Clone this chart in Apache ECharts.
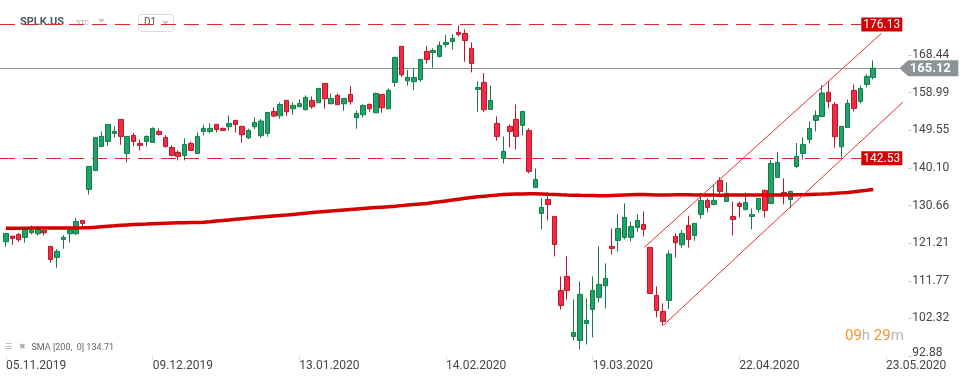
<!DOCTYPE html>
<html><head><meta charset="utf-8">
<script src="https://cdn.jsdelivr.net/npm/echarts@6/dist/echarts.min.js"></script>
<style>html,body{margin:0;padding:0;background:#fff}#c{width:971px;height:382px}</style>
</head><body><div id="c"></div>
<script>
const categories = ["05.11.2019","06.11.2019","07.11.2019","08.11.2019","11.11.2019","12.11.2019","13.11.2019","14.11.2019","15.11.2019","18.11.2019","19.11.2019","20.11.2019","21.11.2019","22.11.2019","25.11.2019","26.11.2019","27.11.2019","29.11.2019","02.12.2019","03.12.2019","04.12.2019","05.12.2019","06.12.2019","09.12.2019","10.12.2019","11.12.2019","12.12.2019","13.12.2019","16.12.2019","17.12.2019","18.12.2019","19.12.2019","20.12.2019","23.12.2019","24.12.2019","26.12.2019","27.12.2019","30.12.2019","31.12.2019","02.01.2020","03.01.2020","06.01.2020","07.01.2020","08.01.2020","09.01.2020","10.01.2020","13.01.2020","14.01.2020","15.01.2020","16.01.2020","17.01.2020","21.01.2020","22.01.2020","23.01.2020","24.01.2020","27.01.2020","28.01.2020","29.01.2020","30.01.2020","31.01.2020","03.02.2020","04.02.2020","05.02.2020","06.02.2020","07.02.2020","10.02.2020","11.02.2020","12.02.2020","13.02.2020","14.02.2020","18.02.2020","19.02.2020","20.02.2020","21.02.2020","24.02.2020","25.02.2020","26.02.2020","27.02.2020","28.02.2020","02.03.2020","03.03.2020","04.03.2020","05.03.2020","06.03.2020","09.03.2020","10.03.2020","11.03.2020","12.03.2020","13.03.2020","16.03.2020","17.03.2020","18.03.2020","19.03.2020","20.03.2020","23.03.2020","24.03.2020","25.03.2020","26.03.2020","27.03.2020","30.03.2020","31.03.2020","01.04.2020","02.04.2020","03.04.2020","06.04.2020","07.04.2020","08.04.2020","09.04.2020","13.04.2020","14.04.2020","15.04.2020","16.04.2020","17.04.2020","20.04.2020","21.04.2020","22.04.2020","23.04.2020","24.04.2020","27.04.2020","28.04.2020","29.04.2020","30.04.2020","01.05.2020","04.05.2020","05.05.2020","06.05.2020","07.05.2020","08.05.2020","11.05.2020","12.05.2020","13.05.2020","14.05.2020","15.05.2020","18.05.2020","19.05.2020","20.05.2020","21.05.2020","22.05.2020","23.05.2020","24.05.2020","25.05.2020","26.05.2020"];

const opens  = [121.57,122.99,123.41,122.66,123.83,123.58,124.41,120.39,117.63,122.15,123.58,123.58,126.92,134.71,139.48,145.5,146.76,148.77,152.29,143.75,148.27,146.26,146.76,146.51,149.27,147.77,145.25,144.0,143.25,146.26,143.75,149.27,149.27,151.03,150.03,150.45,152.04,150.53,147.68,150.45,148.19,148.77,154.29,153.21,157.06,154.97,155.47,154.71,157.06,156.47,161.33,156.22,158.31,156.22,158.56,152.71,153.46,156.05,153.96,158.56,154.97,161.58,170.62,161.99,161.75,162.25,169.36,169.11,168.11,171.12,171.87,174.13,173.88,170.12,159.82,161.58,154.8,151.28,142.49,150.53,152.29,150.78,149.52,135.21,128.68,132.2,127.93,109.35,112.86,97.8,96.79,101.06,104.58,107.59,110.52,120.4,121.9,122.66,122.66,125.17,125.92,120.15,108.1,104.08,106.84,122.91,120.82,125.67,123.16,128.44,131.95,130.95,136.97,131.7,127.93,131.2,129.69,127.93,129.69,134.46,131.2,137.73,133.96,132.2,140.49,143.75,147.27,152.04,153.04,159.07,156.06,145.43,150.28,159.57,156.81,161.08,162.84];
const closes = [123.66,122.4,122.07,124.75,124.41,124.67,123.83,117.13,119.14,122.66,124.5,126.67,126.17,140.48,147.77,148.02,151.03,149.27,148.02,148.02,146.76,145.76,148.02,150.03,148.52,145.5,143.25,143.0,146.01,144.5,148.02,150.03,150.03,149.77,149.52,151.28,151.03,148.44,149.52,151.53,151.87,154.04,153.12,156.03,154.21,155.8,156.3,157.81,155.47,160.07,157.48,157.56,155.97,157.56,156.72,153.79,155.8,154.97,158.81,155.22,159.57,167.86,163.5,162.83,162.83,167.35,167.35,169.61,170.87,171.62,172.63,173.63,172.12,166.35,160.32,154.71,157.06,148.02,144.25,149.27,148.02,154.29,139.23,137.22,130.19,130.94,120.9,105.58,109.35,98.8,108.35,101.82,109.35,110.86,112.36,119.9,124.92,127.68,125.42,126.93,124.67,108.6,104.33,101.57,118.48,121.32,123.67,122.16,126.18,131.95,130.19,131.95,134.21,133.71,127.18,130.45,131.45,128.44,132.45,129.44,141.24,141.49,133.21,134.21,143.0,146.01,150.03,153.29,158.9,156.81,147.94,150.53,156.31,155.05,160.07,163.09,165.12];
const lows   = [120.31,120.81,121.57,121.32,123.41,123.16,123.16,116.29,115.04,119.81,121.32,123.33,125.25,133.37,139.4,145.4,145.67,147.77,145.92,141.49,145.5,144.5,145.5,146.4,148.27,145.17,143.0,142.0,142.0,144.4,143.75,148.27,148.77,149.02,149.44,149.44,149.02,146.43,147.35,149.86,147.68,147.93,152.87,152.46,153.12,153.46,155.47,154.6,154.97,156.47,154.97,156.22,155.97,154.46,155.97,149.94,152.71,154.21,153.96,153.96,154.97,160.49,163.0,160.74,159.74,161.75,166.35,165.26,167.86,170.37,169.86,173.13,166.77,164.09,154.21,154.21,154.8,146.93,141.24,145.26,144.75,148.27,138.73,135.1,124.67,126.93,117.89,104.58,107.09,96.79,94.53,95.79,97.55,106.34,104.83,118.39,119.14,122.16,121.65,124.08,122.91,108.5,102.57,100.5,104.75,117.64,120.07,120.07,121.82,127.35,128.94,130.7,133.21,131.62,123.16,127.68,129.44,124.67,128.94,127.68,130.95,137.65,130.95,129.94,140.07,142.25,146.26,149.28,152.79,155.05,145.18,142.67,150.2,154.3,156.31,160.33,162.33];
const highs  = [123.8,123.0,123.74,124.9,125.67,125.42,124.58,120.56,119.73,123.24,124.83,127.51,126.92,140.5,147.8,149.27,151.1,150.53,152.3,148.1,148.85,147.26,148.27,150.28,150.03,148.35,145.76,144.5,147.52,146.76,149.02,150.95,151.28,151.03,150.28,153.29,152.1,150.7,149.94,152.79,152.37,154.1,155.3,156.56,157.1,156.56,157.31,158.31,158.06,160.07,161.33,158.81,158.81,157.7,160.66,154.46,156.05,156.3,159.0,158.65,160.07,168.0,170.62,164.67,165.09,167.35,170.62,170.12,171.87,173.46,173.71,175.89,174.89,171.62,161.83,163.92,160.82,153.04,148.02,151.03,156.05,154.4,150.03,139.98,132.45,133.96,127.93,112.86,117.89,107.09,111.61,107.34,112.86,120.4,116.13,124.83,128.52,131.19,126.67,128.43,129.19,120.2,110.36,106.09,119.4,123.67,124.5,128.1,126.26,133.71,132.45,135.97,137.73,136.47,131.7,131.7,133.96,129.94,132.45,134.71,142.0,144.09,137.48,134.4,146.35,147.77,151.79,154.55,160.91,161.92,156.56,150.53,157.31,161.08,160.83,163.59,167.11];

const sma200 = [124.95,124.96,124.97,124.98,124.99,125.0,125.0,125.01,125.02,125.03,125.04,125.05,125.06,
125.08,125.2,125.33,125.45,125.57,125.7,125.8,125.88,125.95,126.02,126.1,126.16,126.22,126.28,126.33,126.36,126.4,126.43,126.47,
126.6,126.75,126.9,127.05,127.2,127.35,127.5,127.63,127.77,127.9,128.02,128.14,128.26,128.43,128.6,128.75,128.9,129.05,129.18,
129.3,129.42,129.54,129.66,129.78,129.9,130.02,130.14,130.26,130.38,130.5,130.64,130.78,130.92,131.06,131.2,131.4,131.6,131.82,132.04,
132.26,132.48,132.7,132.85,133.0,133.15,133.3,133.46,133.5,133.54,133.57,133.6,133.62,133.58,133.5,133.43,133.36,133.3,133.27,133.23,
133.2,133.17,133.13,133.1,133.17,133.24,133.31,133.38,133.45,133.41,133.37,133.33,133.3,133.32,133.35,133.36,133.35,133.33,133.32,133.3,
133.28,133.27,133.28,133.3,133.32,133.33,133.33,133.32,133.3,133.29,133.28,133.29,133.3,133.35,133.4,133.45,133.5,133.54,133.62,133.72,133.84,133.96,134.1,134.3,134.5,134.71];

const yTicks = [92.88, 102.32, 111.77, 121.21, 130.66, 140.10, 149.55, 158.99, 168.44];
const dateLabelStep = 23;
const upperChannelX = [100.1, 137.3];
const upperChannelY = [120.15, 173.89];
const lowerChannelX = [103.07, 140.66];
const lowerChannelY = [100.57, 156.64];
const levelValues = [176.13, 142.53, 165.12];
const levelKinds = [0, 0, 1]; // 0 = red dashed level, 1 = last price
const smaLabel = 'SMA [200,  0] 134.71';

const candleData = opens.map((o, i) => [o, closes[i], lows[i], highs[i]]);
const levelData = levelValues.map((v, i) => [0, v, levelKinds[i]]);
const upperData = upperChannelX.map((x, i) => [x, upperChannelY[i]]);
const lowerData = lowerChannelX.map((x, i) => [x, lowerChannelY[i]]);

const chart = echarts.init(document.getElementById('c'), null, {renderer: 'canvas'});
const showDate = (idx) => idx % dateLabelStep === 0;

function renderLevelLine(params, api) {
  const cs = params.coordSys;
  const v = api.value(1), k = api.value(2);
  const y = Math.round(api.coord([0, v])[1]) + 0.5;
  const right = cs.x + cs.width;
  if (k === 1) {
    return {type: 'line', shape: {x1: 0, y1: y, x2: right - 9, y2: y}, style: {stroke: '#8e9598', lineWidth: 1}};
  }
  return {type: 'line', shape: {x1: 0, y1: y, x2: right - 47, y2: y}, style: {stroke: '#e02828', lineWidth: 1.2, lineDash: [15, 8]}};
}
function renderLevelTag(params, api) {
  const cs = params.coordSys;
  const v = api.value(1), k = api.value(2);
  const y = api.coord([0, v])[1];
  const right = cs.x + cs.width;
  if (k === 1) {
    return {type: 'group', children: [
      {type: 'polygon', shape: {points: [[right - 9, y], [right, y - 8], [right + 50, y - 8], [right + 50, y + 8], [right, y + 8]]}, style: {fill: '#8c9396'}},
      {type: 'text', style: {text: v.toFixed(2), x: right + 22, y: y, align: 'center', verticalAlign: 'middle', fill: '#fff', font: 'bold 13px Roboto'}}
    ]};
  }
  return {type: 'group', children: [
    {type: 'rect', shape: {x: right - 47, y: y - 7, width: 41, height: 14}, style: {fill: '#d20000'}},
    {type: 'text', style: {text: v.toFixed(2), x: right - 26.5, y: y + 0.5, align: 'center', verticalAlign: 'middle', fill: '#fff', font: '12px Roboto'}}
  ]};
}

chart.setOption({
  animation: false,
  backgroundColor: '#fff',
  grid: {left: 2.8, right: 62.7, top: 0, bottom: 26},
  xAxis: [{
    type: 'category', data: categories, boundaryGap: true,
    axisLine: {show: false, onZero: false},
    axisTick: {show: true, interval: (i) => showDate(i), alignWithLabel: true, length: 4, lineStyle: {color: '#dedede'}},
    axisLabel: {interval: (i) => showDate(i), align: 'left', margin: 4, color: '#454545', fontSize: 12, fontFamily: 'Roboto'},
    splitLine: {show: false}
  }, {
    type: 'value', min: -0.5, max: categories.length - 0.5, show: false,
    axisLine: {onZero: false}
  }],
  yAxis: {
    type: 'value', position: 'right', min: 92.88, max: 182.27, scale: true,
    axisLine: {show: false, onZero: false},
    splitLine: {show: false},
    axisTick: {show: true, length: 3, lineStyle: {color: '#c8c8c8'}, customValues: yTicks},
    axisLabel: {
      customValues: yTicks, margin: 4, color: '#454545', fontSize: 12, fontFamily: 'Roboto',
      formatter: (v) => v === yTicks[0] ? '{low|' + v.toFixed(2) + '}' : v.toFixed(2),
      rich: {low: {color: '#454545', fontSize: 12, fontFamily: 'Roboto', padding: [0, 0, 7, 0]}}
    }
  },
  graphic: [
    {type: 'text', left: 20, top: 16.5, style: {text: 'SPLK.US', font: 'bold 11px Roboto', fill: '#505a5f'}},
    {type: 'text', left: 76, top: 19.5, style: {text: 'STC', font: '7px Roboto', fill: '#a0a6aa'}},
    {type: 'polygon', shape: {points: [[98, 19], [105, 19], [101.5, 23]]}, style: {fill: '#c4c8cb'}},
    {type: 'rect', shape: {x: 138.5, y: 14.5, width: 35, height: 17, r: 3}, style: {fill: 'none', stroke: '#dcdcdc', lineWidth: 1}},
    {type: 'text', left: 144, top: 17.5, style: {text: 'D1', font: '10px Roboto', fill: '#555'}},
    {type: 'polygon', shape: {points: [[162, 21], [169, 21], [165.5, 25]]}, style: {fill: '#c4c8cb'}},
    {type: 'text', left: 5, top: 343, style: {text: '☰', font: '8px "DejaVu Sans"', fill: '#a8a8a8'}},
    {type: 'text', left: 19, top: 343, style: {text: '✖', font: '8px "DejaVu Sans"', fill: '#a8a8a8'}},
    {type: 'text', left: 31.5, top: 343.5, style: {text: smaLabel, font: '9px Roboto', fill: '#666'}},
    {type: 'text', left: 845, top: 329, style: {text: '{o|09}{g|h} {o|29}{g|m}', rich: {o: {fill: '#f7941d', font: '15px Roboto'}, g: {fill: '#b5b9bc', font: '15px Roboto'}}, font: '15px Roboto'}}
  ],
  series: [
    {type: 'custom', name: 'levelLines', xAxisIndex: 0, yAxisIndex: 0, data: levelData, encode: {x: 0, y: 1}, renderItem: renderLevelLine, z: 1, clip: false, silent: true},
    {type: 'candlestick', name: 'SPLK.US', xAxisIndex: 0, yAxisIndex: 0, data: candleData, barWidth: 5, z: 2,
      itemStyle: {color: '#1ea468', color0: '#f42b43', borderColor: '#137a48', borderColor0: '#b7182c', borderWidth: 1}},
    {type: 'line', name: 'SMA 200', xAxisIndex: 0, yAxisIndex: 0, data: sma200, symbol: 'none', z: 3,
      lineStyle: {color: '#d40000', width: 3.5}},
    {type: 'line', name: 'upper', xAxisIndex: 1, yAxisIndex: 0, data: upperData, symbol: 'none', z: 4,
      lineStyle: {color: '#e8302e', width: 1}},
    {type: 'line', name: 'lower', xAxisIndex: 1, yAxisIndex: 0, data: lowerData, symbol: 'none', z: 4,
      lineStyle: {color: '#e8302e', width: 1}},
    {type: 'custom', name: 'levelTags', xAxisIndex: 0, yAxisIndex: 0, data: levelData, encode: {x: 0, y: 1}, renderItem: renderLevelTag, z: 10, clip: false, silent: true}
  ]
});
</script>
</body></html>
